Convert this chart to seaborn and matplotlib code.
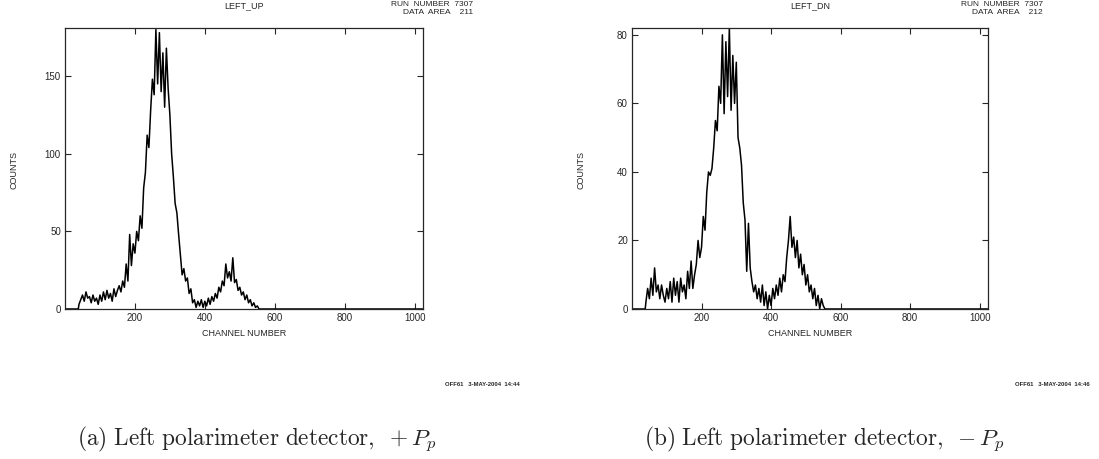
import numpy as np
import pandas as pd
import seaborn as sns
import matplotlib.pyplot as plt

# channel grid (every 5 channels over the populated range, padded with empty ends)
channels = [0, 38] + list(range(40, 565, 5)) + [1023]

counts_up = [0, 0,
    3, 6, 9, 5, 11, 7, 8, 4, 9, 5, 7, 3, 9, 5, 11, 6, 12, 7, 10, 5,
    13, 8, 12, 15, 11, 18, 14, 29, 18, 48, 28, 42, 36, 50, 44, 60, 52, 78, 88, 112,
    104, 128, 148, 138, 180, 145, 178, 140, 165, 130, 168, 142, 125, 100, 85, 68, 62, 48, 35, 22,
    26, 18, 20, 10, 13, 4, 6, 1, 5, 2, 6, 1, 5, 2, 7, 3, 8, 5, 10, 7,
    14, 11, 18, 15, 29, 20, 24, 18, 33, 17, 19, 12, 14, 9, 11, 6, 9, 4, 6, 2,
    4, 1, 2, 0, 0,
    0]

counts_dn = [0, 0,
    2, 6, 3, 9, 4, 12, 5, 7, 3, 7, 4, 2, 6, 3, 8, 2, 9, 4, 8, 2,
    9, 5, 7, 3, 11, 6, 14, 6, 10, 13, 20, 15, 18, 27, 23, 34, 40, 39, 41, 47,
    55, 52, 65, 60, 80, 57, 78, 62, 82, 58, 74, 60, 72, 50, 47, 42, 31, 26, 11, 25,
    12, 8, 5, 7, 3, 6, 2, 7, 1, 5, 0, 4, 1, 6, 3, 7, 4, 9, 5, 10,
    8, 15, 20, 27, 18, 21, 15, 20, 12, 16, 10, 13, 7, 10, 5, 7, 3, 6, 1, 4,
    0, 3, 1, 0, 0,
    0]

panels = [
    dict(counts=counts_up, title='LEFT_UP', area='211', ymax=181, yticks=[0, 50, 100, 150],
         stamp='OFF61   3-MAY-2004  14:44',
         caption=r'$\mathrm{(a)\ Left\ polarimeter\ detector,}\ +P_p$'),
    dict(counts=counts_dn, title='LEFT_DN', area='212', ymax=82, yticks=[0, 20, 40, 60, 80],
         stamp='OFF61   3-MAY-2004  14:46',
         caption=r'$\mathrm{(b)\ Left\ polarimeter\ detector,}\ -P_p$'),
]

sns.set_style('ticks')
plt.rcParams['font.family'] = ['Liberation Sans', 'DejaVu Sans']
plt.rcParams['mathtext.fontset'] = 'cm'

fig = plt.figure(figsize=(10.99, 4.59), dpi=100)
W, H = 1099.0, 459.0

# pixel layout: (axes left, axes right, text right edge, caption left)
layout = [(65, 423, 473, 77), (632, 988, 1043, 644)]

for p, (x0, x1, xr, xc) in zip(panels, layout):
    ax = fig.add_axes([x0 / W, (H - 309) / H, (x1 - x0) / W, (309 - 28) / H])
    df = pd.DataFrame({'channel': channels, 'counts': p['counts']})
    sns.lineplot(data=df, x='channel', y='counts', ax=ax, color='black',
                 lw=1.1, estimator=None)
    ax.set_xlim(0, 1024)
    ax.set_ylim(0, p['ymax'])
    ax.set_xticks([200, 400, 600, 800, 1000])
    ax.set_yticks(p['yticks'])
    ax.tick_params(direction='in', top=True, right=True, length=4, width=0.8,
                   labelsize=7, pad=3)
    for s in ax.spines.values():
        s.set_linewidth(0.9)
    ax.set_xlabel('CHANNEL NUMBER', fontsize=6.5, labelpad=4)
    ax.set_ylabel('')
    cx = (x0 + x1) / 2 / W
    fig.text(cx, 1 - 6 / H, p['title'], ha='center', va='center', fontsize=6.5)
    fig.text(x0 / W - 51 / W, (H - 170) / H, 'COUNTS', rotation=90,
             ha='center', va='center', fontsize=6.5)
    fig.text(xr / W, 1 - 4.5 / H, 'RUN  NUMBER  7307', ha='right', va='center', fontsize=6)
    fig.text(xr / W, 1 - 12 / H, 'DATA  AREA    ' + p['area'], ha='right', va='center',
             fontsize=6)
    fig.text((xr + 47) / W, (H - 384) / H, p['stamp'], ha='right', va='center',
             fontsize=4.2, fontweight='bold')
    fig.text(xc / W, (H - 445) / H, p['caption'], ha='left', va='baseline', fontsize=16.8)

fig.savefig('out.png', dpi=100)
